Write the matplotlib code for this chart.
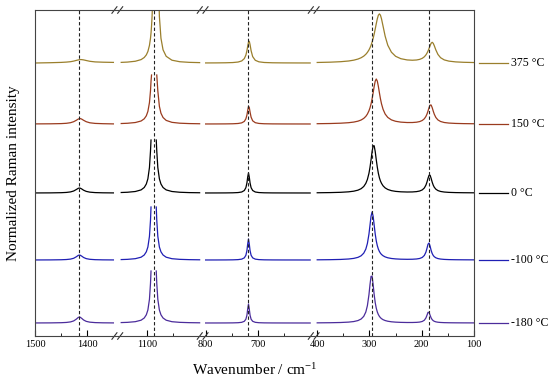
import matplotlib.pyplot as plt
import numpy as np

plt.rcParams['font.family'] = ['Liberation Serif', 'DejaVu Serif']
plt.rcParams['mathtext.fontset'] = 'stix'

# wavenumbers (cm-1) of the four windows shown on the broken axis
wn_1 = [1500, 1470, 1450, 1440, 1432, 1426, 1421, 1417, 1414, 1411, 1407, 1402, 1395, 1385, 1370, 1350]
wn_2 = [1150, 1138, 1123, 1112, 1106, 1102, 1099, 1096, 1094, 1093, 1092, 1091, 1090, 1089, 1088,
        1087, 1086, 1085, 1084, 1083, 1082, 1080, 1077, 1074, 1070, 1064, 1053, 1038, 1020, 1000]
wn_3 = [800, 780, 762, 748, 738, 731, 726, 723, 721, 719.5, 718, 716.5, 715, 713, 710, 705, 698,
        688, 672, 650, 625, 600]
wn_4 = [400, 375, 355, 340, 330, 322, 316, 311, 307, 304, 301, 299, 297, 295, 293, 291, 289, 287,
        285, 283, 281, 279, 277, 274, 270, 265, 258, 250, 240, 228, 218, 210, 204, 199, 195, 192,
        190, 188, 186, 184, 182, 180, 178, 176, 173, 169, 164, 157, 148, 135, 120, 100]

nan = np.nan

# intensities above each spectrum's own baseline (nan = peak cut off)
m180_1 = [0.05, 0.12, 0.3, 0.56, 1.09, 2.08, 3.84, 5.65, 5.9, 4.8, 3.0, 1.65, 0.83, 0.4, 0.18, 0.09]
m180_2 = [0.43, 0.65, 1.33, 2.8, 5.0, 8.2, 13.0, 23.7, 39.7, 52, nan, nan, nan, nan, nan, nan, nan,
          nan, nan, 52, 39.7, 23.7, 13.0, 8.2, 5.0, 2.8, 1.3, 0.65, 0.35, 0.2]
m180_3 = [0.02, 0.03, 0.06, 0.13, 0.29, 0.68, 1.7, 3.8, 7.8, 14, 19, 14, 7.8, 3.8, 1.7, 0.68, 0.29,
          0.13, 0.06, 0.03, 0.02, 0.01]
m180_4 = [0.16, 0.28, 0.50, 0.89, 1.46, 2.44, 3.98, 6.63, 11.0, 17.3,
          28.3, 38.4, 46.7, 46.7, 38.4, 28.3, 20.3, 14.8, 11.0, 8.43,
          6.62, 5.32, 4.35, 3.33, 2.46, 1.77, 1.21, 0.86, 0.62, 0.50,
          0.51, 0.64, 0.92, 1.54, 2.81, 5.08, 7.75, 10.65, 10.65, 7.74,
          5.06, 3.36, 2.33, 1.71, 1.16, 0.77, 0.53, 0.35, 0.25, 0.17,
          0.13, 0.10]

m100_1 = [0.04, 0.1, 0.25, 0.47, 0.91, 1.73, 3.2, 4.7, 4.92, 4.0, 2.5, 1.37, 0.69, 0.33, 0.15, 0.07]
m100_2 = [0.43, 0.65, 1.33, 2.8, 5.0, 8.2, 13.0, 23.7, 39.7, 53, nan, nan, nan, nan, nan, nan, nan,
          nan, nan, 53, 39.7, 23.7, 13.0, 8.2, 5.0, 2.8, 1.3, 0.65, 0.35, 0.2]
m100_3 = [0.02, 0.04, 0.08, 0.17, 0.38, 0.87, 2.15, 4.74, 9.4, 16, 21, 16, 9.4, 4.74, 2.15, 0.87,
          0.38, 0.17, 0.08, 0.04, 0.03, 0.02]
m100_4 = [0.19, 0.33, 0.57, 1.0, 1.62, 2.65, 4.22, 6.82, 10.9, 16.5,
          25.9, 34.8, 43.8, 48, 43.8, 34.8, 25.9, 19.1, 14.3, 10.9,
          8.5, 6.8, 5.54, 4.25, 3.1, 2.22, 1.52, 1.09, 0.81, 0.69,
          0.76, 1.02, 1.53, 2.56, 4.57, 7.88, 11.6, 15.8, 17.0, 13.8,
          9.56, 6.49, 4.53, 3.3, 2.21, 1.43, 0.94, 0.6, 0.40, 0.27,
          0.2, 0.14]

p0_1 = [0.055, 0.13, 0.31, 0.57, 1.09, 2.0, 3.46, 4.77, 4.94, 4.18, 2.79, 1.62, 0.84, 0.41, 0.19, 0.09]
p0_2 = [0.5, 0.75, 1.5, 3.1, 5.5, 9.0, 14.2, 25.5, 42, 53, nan, nan, nan, nan, nan, nan, nan,
        nan, nan, 53, 42, 25.5, 14.2, 9.0, 5.5, 3.1, 1.5, 0.75, 0.4, 0.25]
p0_3 = [0.03, 0.05, 0.09, 0.2, 0.44, 1.0, 2.5, 5.3, 10, 16, 20, 16, 10, 5.3, 2.5, 1.0, 0.44, 0.2,
        0.09, 0.05, 0.03, 0.02]
p0_4 = [0.24, 0.41, 0.69, 1.17, 1.83, 2.85, 4.31, 6.5, 9.64, 13.5,
        19.7, 25.7, 33.2, 41.4, 47.2, 47.2, 41.4, 33.2, 25.7, 19.7,
        15.2, 12.0, 9.68, 7.18, 5.09, 3.54, 2.35, 1.63, 1.19, 0.99,
        1.06, 1.38, 1.98, 3.11, 5.05, 7.9, 10.9, 14.65, 17.74, 17.74,
        14.63, 10.83, 7.85, 5.76, 3.81, 2.42, 1.55, 0.97, 0.62, 0.4,
        0.27, 0.19]

p150_1 = [0.1, 0.2, 0.4, 0.7, 1.3, 2.3, 3.7, 5.0, 5.5, 5.0, 3.7, 2.3, 1.2, 0.6, 0.3, 0.1]
p150_2 = [0.48, 0.74, 1.48, 3.0, 5.2, 8.2, 12.6, 21.4, 33.2, 42.8, 49, nan, nan, nan, nan, nan,
          nan, nan, nan, nan, 49, 33.2, 17.7, 10.8, 6.5, 3.6, 1.66, 0.8, 0.43, 0.25]
p150_3 = [0.03, 0.06, 0.11, 0.23, 0.51, 1.13, 2.6, 5.2, 9, 13.5, 17.6, 16.6, 11.9, 6.8, 3.2, 1.31,
          0.56, 0.25, 0.11, 0.05, 0.03, 0.02]
p150_4 = [0.3, 0.49, 0.81, 1.3, 1.93, 2.84, 4.0, 5.6, 7.63, 9.9,
          13.2, 16.2, 20.1, 25.1, 31.2, 37.6, 42.9, 45, 42.9, 37.6,
          31.2, 25.2, 20.2, 14.7, 9.97, 6.59, 4.11, 2.72, 1.87, 1.47,
          1.48, 1.8, 2.42, 3.52, 5.25, 7.56, 9.88, 12.95, 16.4, 18.96,
          18.95, 16.37, 12.9, 9.8, 6.53, 4.06, 2.51, 1.5, 0.93, 0.57,
          0.38, 0.25]

p375_1 = [0.0, 0.3, 0.6, 0.9, 1.3, 1.9, 2.6, 3.1, 3.4, 3.4, 3.1, 2.5, 1.7, 1.1, 0.8, 0.6]
p375_2 = [0.62, 0.92, 1.76, 3.4, 5.5, 8.1, 11.5, 17.6, 24.8, 30, 37, 46.6, 60, 79, 108, 150, 208,
          270, 300, 270, 208, 108, 46.6, 24.8, 13.2, 6.7, 2.8, 1.27, 0.65, 0.38]
p375_3 = [0.06, 0.11, 0.22, 0.45, 0.96, 2.05, 4.4, 7.9, 12.3, 16.8, 21, 21.8, 18.4, 12.3, 6.4, 2.7,
          1.17, 0.52, 0.22, 0.1, 0.05, 0.03]
p375_4 = [0.53, 0.83, 1.31, 2.0, 2.84, 3.95, 5.25, 6.85, 8.71, 10.6,
          13.06, 15.2, 17.7, 20.9, 24.6, 29.0, 34.0, 39.3, 44.2, 47.8,
          49.1, 47.8, 44.2, 36.8, 26.8, 17.8, 10.8, 6.7, 4.31, 3.07,
          2.77, 3.01, 3.63, 4.69, 6.23, 8.07, 9.79, 11.97, 14.6, 17.4,
          19.8, 20.7, 19.7, 17.3, 13.06, 8.58, 5.32, 3.11, 1.87, 1.1,
          0.71, 0.46]

labels = ["-180 °C", "-100 °C", "0 °C", "150 °C", "375 °C"]
offsets = [13, 76, 143, 212, 273]
spectra = [
    [m180_1, m180_2, m180_3, m180_4],
    [m100_1, m100_2, m100_3, m100_4],
    [p0_1, p0_2, p0_3, p0_4],
    [p150_1, p150_2, p150_3, p150_4],
    [p375_1, p375_2, p375_3, p375_4],
]
colors = ['#4b2c9b', '#1f1fb4', 'black', '#9a3b1e', '#9a7f2c']

# reference band positions (dashed lines)
bands = [1415, 1088, 718, 295, 187]

major_ticks = [1500, 1400, 1100, 800, 700, 400, 300, 200, 100]
minor_ticks = [1450, 1050, 750, 650, 350, 250, 150]

# broken axis: (upper wavenumber, start on axis) of each window
windows = [(1500, 0), (1150, 165), (800, 326.5), (400, 540)]
grids = [wn_1, wn_2, wn_3, wn_4]


def window_of(w):
    if w > 1200:
        return 0
    if w > 900:
        return 1
    if w > 500:
        return 2
    return 3


def to_axis(wn, k=None):
    wn = np.asarray(wn, dtype=float)
    if k is None:
        k = window_of(float(wn))
    hi, start = windows[k]
    return start + hi - wn


fig = plt.figure(figsize=(5.5, 3.8), dpi=100)
ax = fig.add_axes([35/550, 44/380, 439/550, 326/380])

for spec, off, c in zip(spectra, offsets, colors):
    for k in range(4):
        ax.plot(to_axis(grids[k], k), off + np.array(spec[k], dtype=float), color=c, lw=0.9)

for b in bands:
    ax.axvline(to_axis(b), color='#222222', lw=0.8, ls=(0, (3, 2)))

ax.set_xlim(0, 840)
ax.set_ylim(0, 326)
ax.set_xticks([float(to_axis(t)) for t in major_ticks])
ax.set_xticklabels([str(t) for t in major_ticks])
ax.set_xticks([float(to_axis(t)) for t in minor_ticks], minor=True)
ax.tick_params(axis='x', which='major', direction='in', length=4, width=0.8, labelsize=7.5, pad=3)
ax.tick_params(axis='x', which='minor', direction='in', length=2, width=0.6)
ax.set_yticks([])
for s in ax.spines.values():
    s.set_color('#444444')
    s.set_linewidth(0.8)

# break marks on top and bottom spines
tr = ax.get_xaxis_transform()
for k in range(1, 4):
    prev_end = windows[k-1][1] + windows[k-1][0] - [1350, 1000, 600][k-1]
    ub = (prev_end + windows[k][1]) / 2
    for dx in (-5.5, 5.5):
        for yb in (0, 1):
            ax.plot([ub+dx-4.8, ub+dx+4.8], [yb-0.01, yb+0.01], transform=tr,
                    color='#333333', lw=0.8, clip_on=False)

ax.set_xlabel('Wavenumber / cm$^{\\mathregular{-1}}$', fontsize=11, labelpad=9)
ax.set_ylabel('Normalized Raman intensity', fontsize=11, labelpad=11)

ty = ax.get_yaxis_transform()
for off, c, lab in zip(offsets, colors, labels):
    ax.plot([1.011, 1.077], [off, off], transform=ty, color=c, lw=0.9, clip_on=False)
    ax.text(1.084, off, lab, transform=ty, va='center', ha='left', fontsize=8.5)

plt.savefig('out.png', dpi=100)
